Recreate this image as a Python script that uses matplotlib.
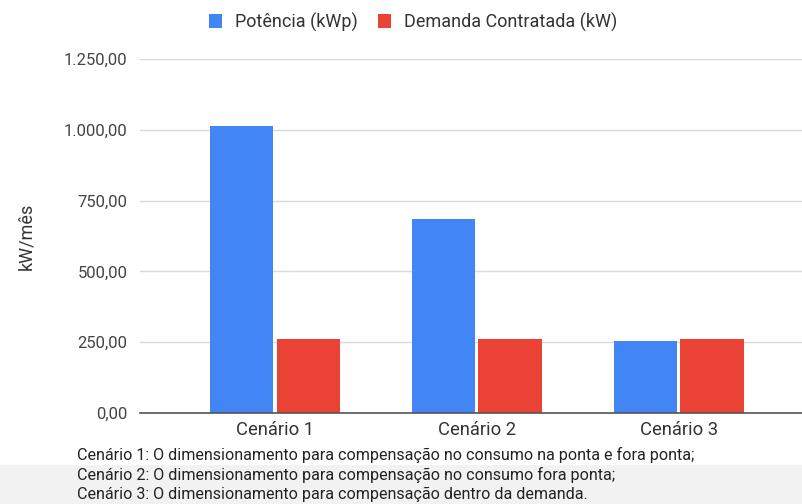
import matplotlib.pyplot as plt
import numpy as np
from matplotlib.patches import Rectangle

plt.rcParams['font.family'] = ['Roboto', 'DejaVu Sans']

cenarios = ['Cenário 1', 'Cenário 2', 'Cenário 3']
potencia = [1015, 685, 255]
demanda = [262, 262, 262]
series_names = ['Potência (kWp)', 'Demanda Contratada (kW)']
yticks = [0, 250, 500, 750, 1000, 1250]
ytick_labels = ['0,00', '250,00', '500,00', '750,00', '1.000,00', '1.250,00']
notas = [
    'Cenário 1: O dimensionamento para compensação no consumo na ponta e fora ponta;',
    'Cenário 2: O dimensionamento para compensação no consumo fora ponta;',
    'Cenário 3: O dimensionamento para compensação dentro da demanda.',
]

blue = '#4285F4'
red = '#EA4335'

fig = plt.figure(figsize=(8.03, 5.04), dpi=100)
# faixa cinza no rodape
fig.patches.append(Rectangle((0, 0), 1, 39 / 504, transform=fig.transFigure,
                             facecolor='#f2f2f2', edgecolor='none', zorder=0))

ax = fig.add_axes([140 / 803, 91 / 504, 663 / 803, 354 / 504])
x = np.arange(len(cenarios))
w = 0.315
ax.bar(x - w / 2 - 0.008, potencia, w, color=blue, label=series_names[0], zorder=3)
ax.bar(x + w / 2 + 0.008, demanda, w, color=red, label=series_names[1], zorder=3)

ax.set_xlim(-0.668, 2.615)
ax.set_ylim(0, 1250)
ax.set_yticks(yticks)
ax.set_yticklabels(ytick_labels, fontsize=12, color='#444444')
ax.set_xticks(x)
ax.set_xticklabels(cenarios, fontsize=13.2, color='#333333')
ax.tick_params(axis='y', length=0, pad=9)
ax.tick_params(axis='x', length=0, pad=6)
ax.grid(axis='y', color='#d9d9d9', linewidth=1, zorder=0)
for s in ['top', 'right', 'left']:
    ax.spines[s].set_visible(False)
ax.spines['bottom'].set_color('#555555')
ax.spines['bottom'].set_linewidth(1.2)
ax.spines['bottom'].set_zorder(4)
ax.set_ylabel('kW/mês', fontsize=13, color='#333333')
ax.yaxis.set_label_coords(-105 / 663, 0.5)

fig.legend(loc='center', bbox_to_anchor=(413 / 803, 1 - 22 / 504), ncol=2,
           frameon=False, fontsize=13, handlelength=0.75, handleheight=0.75,
           columnspacing=1.1, handletextpad=0.7, labelcolor='#333333')

for i, t in enumerate(notas):
    fig.text(77 / 803, 1 - (455 + 19.5 * i) / 504, t, fontsize=11.6,
             color='#222222', va='center', ha='left')

fig.savefig('out.png', dpi=100)
